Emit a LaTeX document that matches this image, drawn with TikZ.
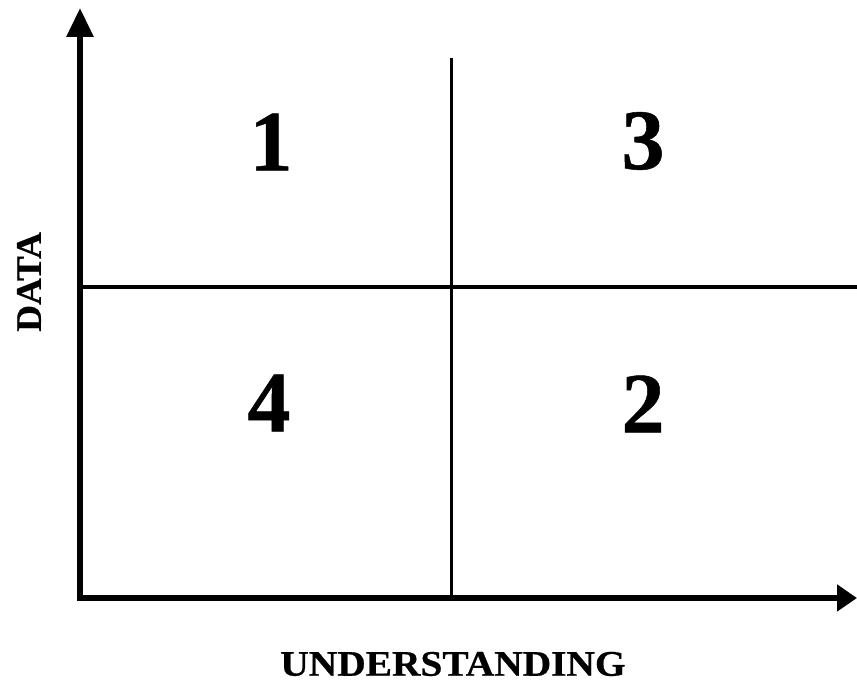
\documentclass[tikz,border=0pt]{standalone}
\usepackage{fontspec}
\setmainfont{Liberation Serif}[BoldFeatures={FakeBold=0.6}]
\usetikzlibrary{arrows.meta}
\tikzset{
  axis/.style={line width=6pt, line join=miter},
  divider/.style={line width=3pt},
  quad/.style={font=\fontsize{86}{86}\selectfont\bfseries, inner sep=0pt},
  axislabel/.style={font=\fontsize{36}{36}\selectfont\bfseries, inner sep=0pt},
}
\begin{document}
\begin{tikzpicture}[x=1pt,y=1pt]
\useasboundingbox (0,0) rectangle (857,682);
% image coordinates: y_tikz = 682 - y_img
\coordinate (top) at (80,674);
\coordinate (corner) at (80,84);
\coordinate (right) at (857,84);
\coordinate (vtop) at (451,624);
\coordinate (vbot) at (451,84);
\coordinate (hleft) at (80,395);
\coordinate (hright) at (857,395);
\draw[divider] (vtop) -- (vbot);
\draw[divider, line width=3.5pt] (hleft) -- (hright);
\draw[axis, {Triangle[length=29pt,width=26pt]}-{Triangle[length=20pt,width=26pt]}] (top) -- (corner) -- (right);
\node[quad] (q1) at (271,540) {1};
\node[quad] (q3) at (643,541) {3};
\node[quad] (q4) at (269,279) {4};
\node[quad] (q2) at (643,278) {2};
\node[axislabel, rotate=90] (data) at (29,400) {\scalebox{1.03}[1]{DATA}};
\node[axislabel] (und) at (453,18) {\scalebox{1.095}[1]{UNDERSTANDING}};
\end{tikzpicture}
\end{document}
